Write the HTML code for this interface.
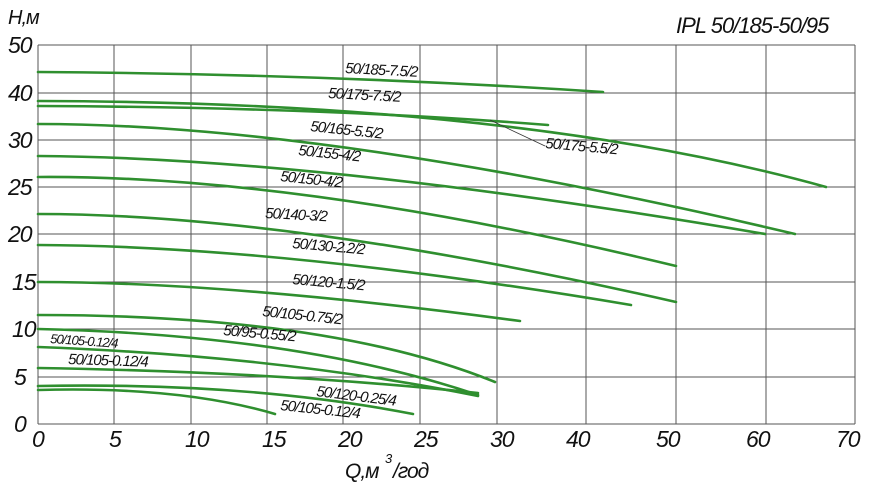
<!DOCTYPE html>
<html><head><meta charset="utf-8"><style>
html,body{margin:0;padding:0;background:#fff;}
svg{display:block}
text{font-family:"Liberation Sans",sans-serif;font-style:italic;fill:#111}
.g{stroke:#555;stroke-width:1;fill:none}
.c{stroke:#2f8f2f;stroke-width:2.6;fill:none;stroke-linecap:round}
.l{font-size:15px;letter-spacing:-1px}
.t{font-size:23px;letter-spacing:-1px}
</style></head><body>
<svg width="888" height="500" viewBox="0 0 888 500" xmlns="http://www.w3.org/2000/svg">
<g class="g">
<line x1="38" y1="45" x2="855" y2="45"/><line x1="38" y1="93" x2="855" y2="93"/>
<line x1="38" y1="140" x2="855" y2="140"/><line x1="38" y1="187" x2="855" y2="187"/>
<line x1="38" y1="234" x2="855" y2="234"/><line x1="38" y1="282" x2="855" y2="282"/>
<line x1="38" y1="329" x2="855" y2="329"/><line x1="38" y1="377" x2="855" y2="377"/>
<line x1="38" y1="424" x2="855" y2="424"/>
<line x1="38" y1="45" x2="38" y2="424"/><line x1="114" y1="45" x2="114" y2="424"/>
<line x1="191" y1="45" x2="191" y2="424"/><line x1="267" y1="45" x2="267" y2="424"/>
<line x1="343" y1="45" x2="343" y2="424"/><line x1="420" y1="45" x2="420" y2="424"/>
<line x1="497" y1="45" x2="497" y2="424"/><line x1="586" y1="45" x2="586" y2="424"/>
<line x1="676" y1="45" x2="676" y2="424"/><line x1="766" y1="45" x2="766" y2="424"/>
<line x1="855" y1="45" x2="855" y2="424"/>
</g>
<g class="c">
<path d="M38 72 Q330 74 603 92"/>
<path d="M38 101 Q520 102 826 187"/>
<path d="M38 106 Q320 107 548 125"/>
<path d="M38 124 Q330 124 795 234"/>
<path d="M38 156 Q320 158 765 234"/>
<path d="M38 177 Q300 175 676 266"/>
<path d="M38 214 Q290 214 676 302"/>
<path d="M38 245 Q280 246 631 305"/>
<path d="M38 282 Q230 282 520 321"/>
<path d="M38 315 Q330 315 495 382"/>
<path d="M38 329 Q300 335 478 395"/>
<path d="M38 347 Q280 356 478 396"/>
<path d="M38 368 Q280 372 478 393"/>
<path d="M38 386 Q250 382 413 414"/>
<path d="M38 390 Q180 386 275 414"/>
</g>
<line x1="490" y1="120" x2="545" y2="146" stroke="#333" stroke-width="0.8"/>
<g class="l">
<text x="345" y="73" transform="rotate(3 345 73)">50/185-7.5/2</text>
<text x="328" y="98" transform="rotate(3 328 98)">50/175-7.5/2</text>
<text x="545" y="148" transform="rotate(5 545 148)">50/175-5.5/2</text>
<text x="310" y="131" transform="rotate(6 310 131)">50/165-5.5/2</text>
<text x="298" y="155" transform="rotate(6 298 155)">50/155-4/2</text>
<text x="280" y="181" transform="rotate(6 280 181)">50/150-4/2</text>
<text x="265" y="218" transform="rotate(3 265 218)">50/140-3/2</text>
<text x="292" y="248" transform="rotate(5 292 248)">50/130-2.2/2</text>
<text x="292" y="284" transform="rotate(5 292 284)">50/120-1.5/2</text>
<text x="262" y="316" transform="rotate(6 262 316)">50/105-0.75/2</text>
<text x="223" y="335" transform="rotate(5 223 335)">50/95-0.55/2</text>
<text x="50" y="343" style="font-size:13px" transform="rotate(4 50 343)">50/105-0.12/4</text>
<text x="68" y="364" transform="rotate(2 68 364)">50/105-0.12/4</text>
<text x="316" y="396" transform="rotate(7 316 396)">50/120-0.25/4</text>
<text x="280" y="410" transform="rotate(6 280 410)">50/105-0.12/4</text>
</g>
<g class="t">
<text x="8" y="24" style="font-size:20px">H,м</text>
<text x="8" y="53">50</text><text x="8" y="101">40</text>
<text x="8" y="148">30</text><text x="8" y="195">25</text>
<text x="8" y="242">20</text><text x="12" y="290">15</text>
<text x="12" y="337">10</text><text x="14" y="385">5</text>
<text x="14" y="432">0</text>
<text x="32" y="447">0</text><text x="109" y="447">5</text>
<text x="185" y="447">10</text><text x="262" y="447">15</text>
<text x="338" y="447">20</text><text x="414" y="447">25</text>
<text x="490" y="447">30</text><text x="566" y="447">40</text>
<text x="656" y="447">50</text><text x="746" y="447">60</text>
<text x="836" y="447">70</text>
<text x="345" y="478" style="font-size:21px">Q,м</text>
<text x="385" y="463" style="font-size:13px">3</text>
<text x="393" y="478" style="font-size:21px">/год</text>
<text x="676" y="33" style="font-size:22px">IPL 50/185-50/95</text>
</g>
</svg>
</body></html>
